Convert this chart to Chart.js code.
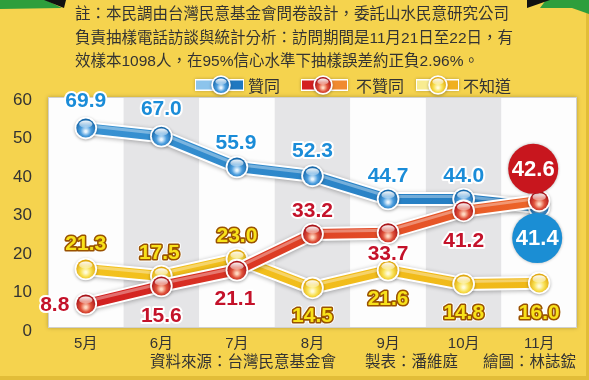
<!DOCTYPE html>
<html><head><meta charset="utf-8">
<script src="https://cdn.jsdelivr.net/npm/chart.js@4.4.1/dist/chart.umd.min.js"></script>
<style>
html,body{margin:0;padding:0;background:#f5d34e;}
#wrap{position:relative;width:589px;height:380px;overflow:hidden;background:#f5d34e;}
#c{position:absolute;left:0;top:0;}
.t{position:absolute;font-family:"Liberation Sans","Noto Sans CJK TC",sans-serif;color:#333;white-space:nowrap;font-size:15.5px;line-height:18px;}
</style></head><body>
<div id="wrap">
<canvas id="c" width="589" height="380"></canvas>
<div class="t" style="left:75px;top:5px;">註：本民調由台灣民意基金會問卷設計，委託山水民意研究公司</div>
<div class="t" style="left:75px;top:29px;">負責抽樣電話訪談與統計分析：訪問期間是11月21日至22日，有</div>
<div class="t" style="left:75px;top:52px;">效樣本1098人，在95%信心水準下抽樣誤差約正負2.96%。</div>
<div class="t" style="left:150px;top:353px;">資料來源：台灣民意基金會</div>
<div class="t" style="left:365px;top:353px;">製表：潘維庭</div>
<div class="t" style="left:483px;top:353px;">繪圖：林誌鋐</div>
</div>
<script>
const months = ['5月','6月','7月','8月','9月','10月','11月'];
const yTicks = [0,10,20,30,40,50,60];
const seriesNames = ['贊同','不贊同','不知道'];
// values printed on the chart
const approveValues = [69.9, 67.0, 55.9, 52.3, 44.7, 44.0, 41.4];
const disapproveValues = [8.8, 15.6, 21.1, 33.2, 33.7, 41.2, 42.6];
const unknownValues = [21.3, 17.5, 23.0, 14.5, 21.6, 14.8, 16.0];
// heights at which the graphic draws the points on its 0-60 axis (the original is not to scale)
const approveHeights = [52.7, 50.6, 42.6, 40.3, 34.3, 34.3, 32.2];
const disapproveHeights = [7.0, 11.7, 15.8, 25.2, 25.5, 31.2, 33.8];
const unknownHeights = [16.1, 14.3, 18.7, 11.2, 15.8, 12.2, 12.5];

// styling / label placement (not data)
const series = [
  {key:'disapprove', name:seriesNames[1], values:disapproveValues, heights:disapproveHeights, order:1,
   line:['#cf1820','#ef6c2a'], ball:{light:'#ffd8c0', base:'#e0523a', dark:'#a8141a'},
   text:'#c4122a', stroke:'#ffffff', circle:'#c8161e',
   pos:[[-31,1],[0,30],[-2,29],[0,-23],[0,21],[0,30],[-6,-32,'c']],
   legend:{x0:302, cx:323, x1:347, tx:356, l:'#d42020', r:'#f08a30'}},
  {key:'approve', name:seriesNames[0], values:approveValues, heights:approveHeights, order:2,
   line:['#3a94d4','#1f78be'], ball:{light:'#e8f4fd', base:'#4c9ede', dark:'#1768aa'},
   text:'#1a8cd8', stroke:'#ffffff', circle:'#1b8ed4',
   pos:[[0,-27],[0,-27],[-1,-24],[0,-25],[0,-23],[0,-23],[-2,31,'c']],
   legend:{x0:196, cx:221, x1:243, tx:248, l:'#8cc4ec', r:'#1f78c0'}},
  {key:'unknown', name:seriesNames[2], values:unknownValues, heights:unknownHeights, order:3,
   line:['#f3c21e','#f0b818'], ball:{light:'#fffbd8', base:'#f8e050', dark:'#e0a810'},
   text:'#f8e21a', stroke:'#9a5200', circle:null,
   pos:[[0,-25],[-2,-23],[0,-23],[0,28],[0,29],[0,29],[0,30]],
   legend:{x0:417, cx:438, x1:458, tx:463, l:'#f8ec90', r:'#f0b020'}}
];

const datasets = [];
series.forEach(s => {
  datasets.push({label:s.name, data:s.heights, order:s.order, borderWidth:10, pointRadius:0,
    tension:0, borderCapStyle:'round', borderJoinStyle:'round', _main:s,
    borderColor:(ctx)=>{const ca=ctx.chart.chartArea; if(!ca) return s.line[0];
      const g=ctx.chart.ctx.createLinearGradient(ca.left,0,ca.right,0); g.addColorStop(0,s.line[0]); g.addColorStop(1,s.line[1]); return g;}});
  datasets.push({label:s.name+'_o', data:s.heights, order:s.order+0.5, borderWidth:14, pointRadius:0,
    tension:0, borderCapStyle:'round', borderJoinStyle:'round', borderColor:'#ffffff', _outline:true});
});

function ball(ctx,x,y,r,b){
  ctx.save();
  ctx.shadowColor='rgba(0,0,0,0.3)'; ctx.shadowBlur=3; ctx.shadowOffsetY=1;
  ctx.beginPath(); ctx.arc(x,y,r+1.8,0,Math.PI*2); ctx.fillStyle='#ffffff'; ctx.fill();
  ctx.restore();
  ctx.save();
  const g=ctx.createRadialGradient(x,y+r*0.35,r*0.1,x,y+r*0.2,r*1.1);
  g.addColorStop(0,b.light); g.addColorStop(0.45,b.base); g.addColorStop(1,b.dark);
  ctx.beginPath(); ctx.arc(x,y,r,0,Math.PI*2); ctx.fillStyle=g; ctx.fill();
  ctx.beginPath(); ctx.ellipse(x,y-r*0.42,r*0.7,r*0.38,0,0,Math.PI*2);
  const h=ctx.createLinearGradient(0,y-r*0.8,0,y);
  h.addColorStop(0,'rgba(255,255,255,0.95)'); h.addColorStop(1,'rgba(255,255,255,0.25)');
  ctx.fillStyle=h; ctx.fill();
  ctx.restore();
}

const panel = {top:97, bottom:328};

const bgPlugin = {
  id:'bg',
  beforeDraw(chart){
    const ctx=chart.ctx, a=chart.chartArea, x=chart.scales.x;
    ctx.save();
    ctx.fillStyle='#f5d34e'; ctx.fillRect(0,0,chart.width,chart.height);
    ctx.fillStyle='#e2bd38'; ctx.fillRect(0,376,589,4); ctx.fillRect(586,0,3,380);
    ctx.fillStyle='#2e9e3c';
    ctx.beginPath(); ctx.moveTo(0,0); ctx.lineTo(46,0); ctx.lineTo(62,8); ctx.lineTo(0,9); ctx.closePath(); ctx.fill();
    ctx.fillStyle='#111';
    ctx.beginPath(); ctx.moveTo(44,0); ctx.lineTo(66,0); ctx.lineTo(64,8); ctx.closePath(); ctx.fill();
    ctx.fillStyle='#2e9e3c';
    ctx.beginPath(); ctx.moveTo(546,0); ctx.lineTo(589,0); ctx.lineTo(589,14); ctx.lineTo(572,8); ctx.lineTo(540,8); ctx.closePath(); ctx.fill();
    ctx.fillStyle='#111';
    ctx.beginPath(); ctx.moveTo(527,0); ctx.lineTo(550,0); ctx.lineTo(527,8); ctx.closePath(); ctx.fill();
    ctx.shadowColor='rgba(0,0,0,0.25)'; ctx.shadowBlur=4;
    ctx.fillStyle='#fcfcfc'; ctx.fillRect(a.left,panel.top,a.right-a.left,panel.bottom-panel.top);
    ctx.shadowBlur=0;
    const half=(x.getPixelForValue(1)-x.getPixelForValue(0))/2;
    months.forEach((m,i)=>{
      const cx=x.getPixelForValue(i);
      const l=Math.max(a.left,cx-half), r=Math.min(a.right,cx+half);
      ctx.fillStyle = i%2 ? '#e5e5e7' : '#fdfdfd';
      ctx.fillRect(l,panel.top,r-l,panel.bottom-panel.top);
    });
    ctx.strokeStyle='#d0d0d0'; ctx.lineWidth=1;
    ctx.strokeRect(a.left+0.5,panel.top+0.5,a.right-a.left-1,panel.bottom-panel.top-1);
    ctx.textBaseline='middle'; ctx.textAlign='left';
    const ly=85;
    [series[1],series[0],series[2]].forEach(s=>{
      const L=s.legend;
      ctx.save();
      ctx.shadowColor='rgba(0,0,0,0.25)'; ctx.shadowBlur=3;
      ctx.fillStyle='#fff'; ctx.fillRect(L.x0-1,ly-6,L.x1-L.x0+2,12);
      ctx.restore();
      ctx.fillStyle=L.l; ctx.fillRect(L.x0,ly-4.5,L.cx-L.x0,9);
      ctx.fillStyle=L.r; ctx.fillRect(L.cx,ly-4.5,L.x1-L.cx,9);
      ball(ctx,L.cx,ly,8,s.ball);
      ctx.fillStyle='#333'; ctx.font='16px "Noto Sans CJK TC", sans-serif';
      ctx.fillText(s.name,L.tx,ly+1);
    });
    ctx.restore();
  },
  beforeDatasetDraw(chart,args){
    const ds=chart.data.datasets[args.index];
    if(ds._outline){ chart.ctx.save(); chart.ctx.shadowColor='rgba(0,0,0,0.3)'; chart.ctx.shadowBlur=4; chart.ctx.shadowOffsetY=1; }
  },
  afterDatasetDraw(chart,args){
    const ds=chart.data.datasets[args.index], ctx=chart.ctx;
    if(ds._outline){ ctx.restore(); return; }
    const s=ds._main; if(!s) return;
    const pts=args.meta.data;
    ctx.save();
    ctx.beginPath();
    pts.forEach((p,i)=>{ if(i===0) ctx.moveTo(p.x,p.y-2.5); else ctx.lineTo(p.x,p.y-2.5); });
    ctx.strokeStyle='rgba(255,255,255,0.35)'; ctx.lineWidth=3; ctx.lineJoin='round'; ctx.stroke();
    ctx.restore();
    pts.forEach(p=>ball(ctx,p.x,p.y,9.5,s.ball));
  },
  afterDatasetsDraw(chart){
    const ctx=chart.ctx;
    series.forEach(s=>{
      const idx=chart.data.datasets.findIndex(d=>d._main===s);
      const pts=chart.getDatasetMeta(idx).data;
      s.values.forEach((v,i)=>{
        const p=pts[i], o=s.pos[i], tx=p.x+o[0], ty=p.y+o[1], txt=v.toFixed(1);
        ctx.save();
        ctx.textAlign='center'; ctx.textBaseline='middle';
        if(o[2]==='c'){
          ctx.shadowColor='rgba(0,0,0,0.3)'; ctx.shadowBlur=3;
          ctx.beginPath(); ctx.arc(tx,ty,25,0,Math.PI*2); ctx.fillStyle=s.circle; ctx.fill();
          ctx.shadowBlur=0;
          ctx.font='bold 22px "Liberation Sans", Arial, sans-serif';
          ctx.fillStyle='#ffffff'; ctx.fillText(txt,tx,ty+1);
        } else {
          ctx.font='bold 21px "Liberation Sans", Arial, sans-serif';
          ctx.lineJoin='round';
          if(s.key==='unknown'){
            ctx.lineWidth=5; ctx.strokeStyle='#ffffff'; ctx.strokeText(txt,tx,ty);
            ctx.lineWidth=3.2; ctx.strokeStyle=s.stroke; ctx.strokeText(txt,tx,ty);
          } else {
            ctx.lineWidth=4; ctx.strokeStyle=s.stroke; ctx.strokeText(txt,tx,ty);
          }
          ctx.fillStyle=s.text; ctx.fillText(txt,tx,ty);
        }
        ctx.restore();
      });
    });
  }
};

new Chart(document.getElementById('c'), {
  type:'line',
  data:{labels:months, datasets},
  options:{
    responsive:false, animation:false, devicePixelRatio:1,
    layout:{padding:{top:100,right:12,left:0,bottom:0}},
    plugins:{legend:{display:false}, tooltip:{enabled:false}},
    scales:{
      x:{offset:true, grid:{display:false, drawTicks:false}, border:{display:false},
        ticks:{color:'#333', padding:4, font:{size:15, family:'"Liberation Sans","Noto Sans CJK TC",sans-serif'}},
        afterFit(s){ s.height=49; }},
      y:{min:0, max:60, grid:{display:false, drawTicks:false}, border:{display:false},
        afterBuildTicks(s){ s.ticks = yTicks.map(v=>({value:v})); },
        ticks:{color:'#333', padding:16, font:{size:17, family:'"Liberation Sans",sans-serif'}},
        afterFit(s){ s.width=48; }}
    }
  },
  plugins:[bgPlugin]
});
</script>
</body></html>
